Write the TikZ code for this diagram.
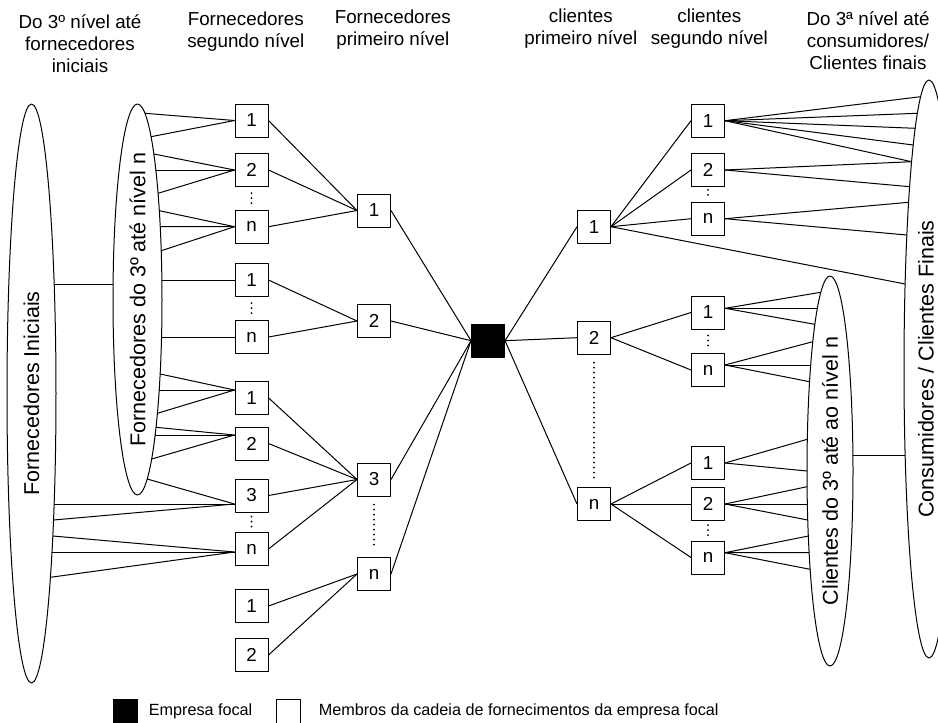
\documentclass[tikz,border=0pt]{standalone}
\usepackage{fontspec}
\setmainfont{Liberation Sans}
\usepackage{graphicx}
\usetikzlibrary{shapes.geometric,calc}

\begin{document}
\begin{tikzpicture}[x=0.5pt,y=-0.5pt, line width=0.5pt, line join=round, font=\fontsize{9.4}{11}\selectfont,
    caixa/.style={draw, minimum size=16.5pt, inner sep=0pt},
    elipse/.style={draw, ellipse, inner sep=0pt, font=\fontsize{10.75}{12}\selectfont},
    pontos/.style={line width=1pt, line cap=round, dash pattern=on 0pt off 2.5pt, shorten <=#1, shorten >=#1},
    pontos/.default=3pt,
    legenda/.style={anchor=west, inner sep=0pt, font=\fontsize{8.1}{10}\selectfont}]
    \useasboundingbox (0,0) rectangle (938,723);
    \clip (0,0) rectangle (938,723);
    % titulos
    \node[align=center] (t1) at (80,43.5) {Do 3º nível até\\fornecedores\\iniciais};
    \node[align=center] (t2) at (245.8,31.7) {Fornecedores\\segundo nível};
    \node[align=center] (t3) at (392.8,30) {Fornecedores\\primeiro nível};
    \node[align=center] (t4) at (580.8,29) {clientes\\primeiro nível};
    \node[align=center] (t5) at (709.3,29) {clientes\\segundo nível};
    \node[align=center] (t6) at (868,40.3) {Do 3ª nível até\\consumidores/\\Clientes finais};
    % elipses
    \node[elipse, minimum width=24.5pt, minimum height=289.5pt] (ini) at (31.5,393.5) {\rotatebox{90}{\makebox[0pt]{Fornecedores Iniciais}}};
    \node[elipse, minimum width=24.5pt, minimum height=195.5pt] (forn3) at (137.5,299.5) {\rotatebox{90}{\makebox[0pt]{Fornecedores do 3º até nível n}}};
    \node[elipse, minimum width=23pt, minimum height=195pt] (cli3) at (830,471) {\rotatebox{90}{\makebox[0pt]{Clientes do 3º até ao nível n}}};
    \node[elipse, minimum width=25pt, minimum height=289pt] (cons) at (929,369) {\rotatebox{90}{\makebox[0pt]{Consumidores / Clientes Finais}}\kern3pt};
    % fornecedores segundo nivel
    \node[caixa] (s1a) at (251.5,120.5) {1};
    \node[caixa] (s2a) at (251.5,170) {2};
    \node[caixa] (sna) at (251.5,226.7) {n};
    \node[caixa] (s1b) at (251.5,280) {1};
    \node[caixa] (snb) at (251.5,337) {n};
    \node[caixa] (s1c) at (251.5,397.8) {1};
    \node[caixa] (s2c) at (251.5,443.5) {2};
    \node[caixa] (s3c) at (251.5,495.5) {3};
    \node[caixa] (snc) at (251.5,549) {n};
    \node[caixa] (s1d) at (251.5,606) {1};
    \node[caixa] (s2d) at (251.5,655) {2};
    % fornecedores primeiro nivel
    \node[caixa] (f1) at (374,210.5) {1};
    \node[caixa] (f2) at (374,321) {2};
    \node[caixa] (f3) at (374,479.5) {3};
    \node[caixa] (fn) at (374,574) {n};
    % empresa focal
    \node[caixa, fill=black] (focal) at (488,340.7) {};
    % clientes primeiro nivel
    \node[caixa] (c1) at (594,226.7) {1};
    \node[caixa] (c2) at (594,337.7) {2};
    \node[caixa] (cn) at (594,504) {n};
    % clientes segundo nivel
    \node[caixa] (k1a) at (708,120.7) {1};
    \node[caixa] (k2a) at (708,170) {2};
    \node[caixa] (kna) at (708,218.7) {n};
    \node[caixa] (k1b) at (708,312.5) {1};
    \node[caixa] (knb) at (708,370) {n};
    \node[caixa] (k1c) at (708,463) {1};
    \node[caixa] (k2c) at (708,504) {2};
    \node[caixa] (knc) at (708,557.5) {n};
    % ligacoes entre caixas
    \foreach \a/\z in {s1a/f1, s2a/f1, sna/f1, s1b/f2, snb/f2, s1c/f3, s2c/f3, s3c/f3, snc/f3, s1d/fn, s2d/fn,
        f1/focal, f2/focal, f3/focal, fn/focal, focal/c1, focal/c2, focal/cn,
        c1/k1a, c1/k2a, c1/kna, c2/k1b, c2/knb, cn/k1c, cn/k2c, cn/knc}
      \draw (\a.east) -- (\z.west);
    % ligacoes ate as elipses (caixa / desvio / altura na elipse)
    \foreach \n/\d/\yy in {s3c/8.5/504, s3c/8.5/520, snc/3/536, snc/3/552, snc/3/577.3}{
      \pgfmathsetmacro\dx{24.5*sqrt(1-((\yy-393.5)/289.5)^2)}
      \draw ($(\n.west)+(0,\d)$) -- ($(ini.center)+(\dx,\yy-393.5)$);
    }
    \foreach \n/\d/\yy in {s1a/0/113.3, s1a/0/136.7, s2a/0/154, s2a/0/170, s2a/0/193.3, sna/0/210.7, sna/0/226.7, sna/0/250.7,
        s1b/0/280, snb/0/337, s1c/-7.8/374, s1c/-7.8/390, s1c/-7.8/413.3, s2c/-8.5/427.3, s2c/-8.5/435, s2c/-8.5/459, s3c/8.5/479}{
      \pgfmathsetmacro\dx{24.5*sqrt(1-((\yy-299.5)/195.5)^2)}
      \draw ($(\n.west)+(0,\d)$) -- ($(forn3.center)+(\dx,\yy-299.5)$);
    }
    \foreach \n/\d/\yy in {k1b/-4.2/292.3, k1b/-4.2/308.3, k1b/-4.2/324.3, knb/-5/341.7, knb/-5/365, knb/-5/381.7,
        k1c/0/439.3, k1c/0/471, k2c/0/486.7, k2c/0/504, k2c/0/520, knc/-4.8/536, knc/-4.8/552.7, knc/-4.8/569.3}{
      \pgfmathsetmacro\dx{23*sqrt(1-((\yy-471)/195)^2)}
      \draw ($(\n.east)+(0,\d)$) -- ($(cli3.center)+(-\dx,\yy-471)$);
    }
    \foreach \n/\d/\yy in {k1a/0/96.7, k1a/0/113.3, k1a/0/128.3, k1a/0/145, k1a/0/161.7, k2a/0/161.7, k2a/0/186.7,
        kna/0/202.3, kna/0/235, c1/0/284}{
      \pgfmathsetmacro\dx{25*sqrt(1-((\yy-369)/289)^2)}
      \draw ($(\n.east)+(0,\d)$) -- ($(cons.center)+(-\dx,\yy-369)$);
    }
    \draw ($(ini.center)+(22.7,-109.5)$) -- ($(forn3.center)+(-24.4,-15.5)$);
    \draw ($(cli3.center)+(22.9,-16)$) -- ($(cons.center)+(-23.9,86)$);
    % reticencias
    \draw[pontos] (s2a.south) -- (sna.north);
    \draw[pontos] (s1b.south) -- (snb.north);
    \draw[pontos=2pt] (s3c.south) -- (snc.north);
    \draw[pontos=4pt] (f3.south) -- (fn.north);
    \draw[pontos=1.4pt] (k2a.south) -- (kna.north);
    \draw[pontos] (k1b.south) -- (knb.north);
    \draw[pontos=2pt] (k2c.south) -- (knc.north);
    \draw[pontos=4pt] (c2.south) -- (cn.north);
    % legenda
    \node[draw, fill=black, minimum size=12pt, inner sep=0pt] (lfocal) at (125.5,711) {};
    \node[legenda] (tfocal) at (148.3,711) {Empresa focal};
    \node[draw, minimum size=12pt, inner sep=0pt] (lmembro) at (288.5,711) {};
    \node[legenda] (tmembro) at (318.3,711) {Membros da cadeia de fornecimentos da empresa focal};
\end{tikzpicture}
\end{document}
